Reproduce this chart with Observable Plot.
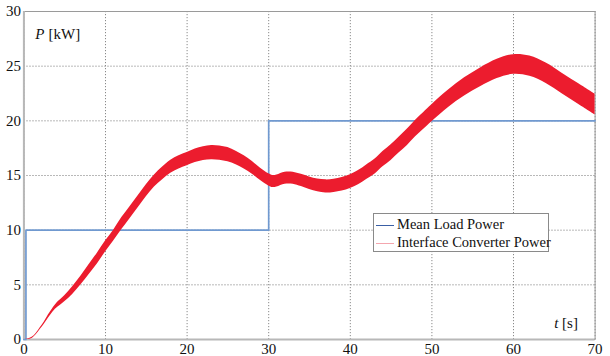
<!DOCTYPE html>
<html>
<head>
<meta charset="utf-8">
<script src="https://cdn.jsdelivr.net/npm/d3@7"></script>
<script src="https://cdn.jsdelivr.net/npm/@observablehq/plot@0.6"></script>
<style>
  html, body { margin: 0; padding: 0; background: white; }
  #chart { position: relative; width: 610px; height: 356px; }
  #chart svg, #chart svg text { font-family: "Liberation Serif", "Times New Roman", serif !important; }
  #legend {
    position: absolute; left: 373px; top: 213px; width: 174px; height: 37px;
    border: 1px solid #8a8a8a; background: white;
    font-family: "Liberation Serif", "Times New Roman", serif; font-size: 14.5px; color: #111;
  }
  #legend .row { position: absolute; left: 2px; height: 18px; line-height: 18px; white-space: nowrap; }
  #legend .sw { display: inline-block; width: 18px; height: 0; vertical-align: middle; margin-right: 3px; }
</style>
</head>
<body>
<div id="chart"></div>
<script>
// Tick values
const xTicks = [0, 10, 20, 30, 40, 50, 60, 70];
const yTicks = [0, 5, 10, 15, 20, 25, 30];

// Mean load power (step)
const loadT = [0, 0.25, 30, 70];
const loadP = [0, 10, 20, 20];

// Interface converter power: oscillation envelope (lower / upper)
const convT = [0, 0.5, 1, 1.5, 2, 2.5, 3, 3.5, 4, 5, 6, 7, 8, 9, 10, 11, 12, 13, 14, 15, 16, 17, 18, 19, 20, 21, 22, 23, 24, 25, 26, 27, 28, 29, 30, 30.5, 31, 32, 33, 34, 35, 36, 37, 38, 39, 40, 41, 42, 43, 44, 45, 46, 47, 48, 49, 50, 52, 54, 56, 58, 60, 62, 64, 66, 68, 70];
const convLo = [0, 0, 0.1, 0.44, 0.92, 1.4, 1.95, 2.45, 2.85, 3.45, 4.15, 5.0, 5.95, 6.9, 8.0, 9.0, 10.05, 11.05, 12.05, 13.05, 13.95, 14.62, 15.2, 15.6, 15.9, 16.18, 16.37, 16.45, 16.4, 16.25, 15.98, 15.6, 15.12, 14.54, 14.05, 13.9, 13.95, 14.2, 14.2, 13.99, 13.73, 13.52, 13.4, 13.45, 13.58, 13.82, 14.15, 14.63, 15.12, 15.8, 16.38, 17.07, 17.75, 18.54, 19.23, 19.92, 21.2, 22.27, 23.14, 23.87, 24.25, 24.08, 23.42, 22.46, 21.5, 20.55];
const convHi = [0, 0.05, 0.2, 0.56, 1.08, 1.6, 2.25, 2.8, 3.3, 4.0, 4.85, 5.8, 6.85, 7.9, 9.0, 10.0, 11.15, 12.15, 13.15, 14.15, 15.05, 15.78, 16.4, 16.8, 17.1, 17.42, 17.63, 17.75, 17.7, 17.55, 17.22, 16.8, 16.28, 15.66, 15.15, 15.0, 15.05, 15.3, 15.3, 15.11, 14.87, 14.68, 14.6, 14.65, 14.82, 15.08, 15.45, 15.97, 16.48, 17.2, 17.82, 18.53, 19.25, 20.06, 20.77, 21.48, 22.8, 23.93, 24.86, 25.63, 26.05, 25.92, 25.28, 24.34, 23.4, 22.45];

const seriesNames = ["Mean Load Power", "Interface Converter Power"];

const load = loadT.map((t, i) => ({t, p: loadP[i]}));
const conv = convT.map((t, i) => ({t, lo: convLo[i], hi: convHi[i]}));

const FONT = "Liberation Serif";

const chart = Plot.plot({
  width: 610,
  height: 356,
  marginLeft: 23.4,
  marginRight: 15.4,
  marginTop: 11,
  marginBottom: 17,
  x: {domain: [0, 70], label: null},
  y: {domain: [0, 30], label: null},
  style: {fontFamily: "'Liberation Serif', serif", fontSize: "15px", color: "#111", background: "white"},
  marks: [
    Plot.gridX(xTicks, {stroke: "#8a8a8a", strokeOpacity: 1, strokeDasharray: "1.2,1.8"}),
    Plot.gridY(yTicks, {stroke: "#8a8a8a", strokeOpacity: 1, strokeDasharray: "1.2,1.8"}),
    Plot.frame({stroke: "#9a9a9a", strokeWidth: 1}),
    Plot.ruleY([0], {stroke: "#b8b8b8", strokeWidth: 2.2}),
    Plot.ruleX([0], {stroke: "#b8b8b8", strokeWidth: 2}),
    Plot.axisX(xTicks, {tickSize: 0, tickPadding: 4, fontSize: 15, fontFamily: FONT, label: null}),
    Plot.axisY(yTicks, {tickSize: 0, tickPadding: 3, fontSize: 15, fontFamily: FONT, label: null}),
    Plot.line(load, {x: "t", y: "p", curve: "step-after", stroke: "#7099d0", strokeWidth: 1.7}),
    Plot.areaY(conv, {x: "t", y1: "lo", y2: "hi", fill: "#ec1c2e", curve: "catmull-rom"}),
    Plot.text(["P"], {frameAnchor: "top-left", dx: 20.5, dy: 27, lineAnchor: "bottom", textAnchor: "end", fontStyle: "italic", fontSize: 15, fontFamily: FONT}),
    Plot.text(["[kW]"], {frameAnchor: "top-left", dx: 24.6, dy: 27, lineAnchor: "bottom", textAnchor: "start", fontSize: 15, fontFamily: FONT}),
    Plot.text(["t"], {frameAnchor: "bottom-right", dx: -36.6, dy: -12, lineAnchor: "bottom", textAnchor: "end", fontStyle: "italic", fontSize: 15, fontFamily: FONT}),
    Plot.text(["[s]"], {frameAnchor: "bottom-right", dx: -33, dy: -12, lineAnchor: "bottom", textAnchor: "start", fontSize: 15, fontFamily: FONT})
  ]
});

const host = document.getElementById("chart");
host.appendChild(chart);
d3.select(chart).selectAll("text").attr("font-family", "Liberation Serif");

const legend = document.createElement("div");
legend.id = "legend";
const swatches = ["#3a5fa5", "#f4a6ae"];
seriesNames.forEach((name, i) => {
  const row = document.createElement("div");
  row.className = "row";
  row.style.top = (1 + i * 17.5) + "px";
  const sw = document.createElement("span");
  sw.className = "sw";
  sw.style.borderTop = "1.3px solid " + swatches[i];
  row.appendChild(sw);
  row.appendChild(document.createTextNode(name));
  legend.appendChild(row);
});
host.appendChild(legend);
</script>
</body>
</html>
